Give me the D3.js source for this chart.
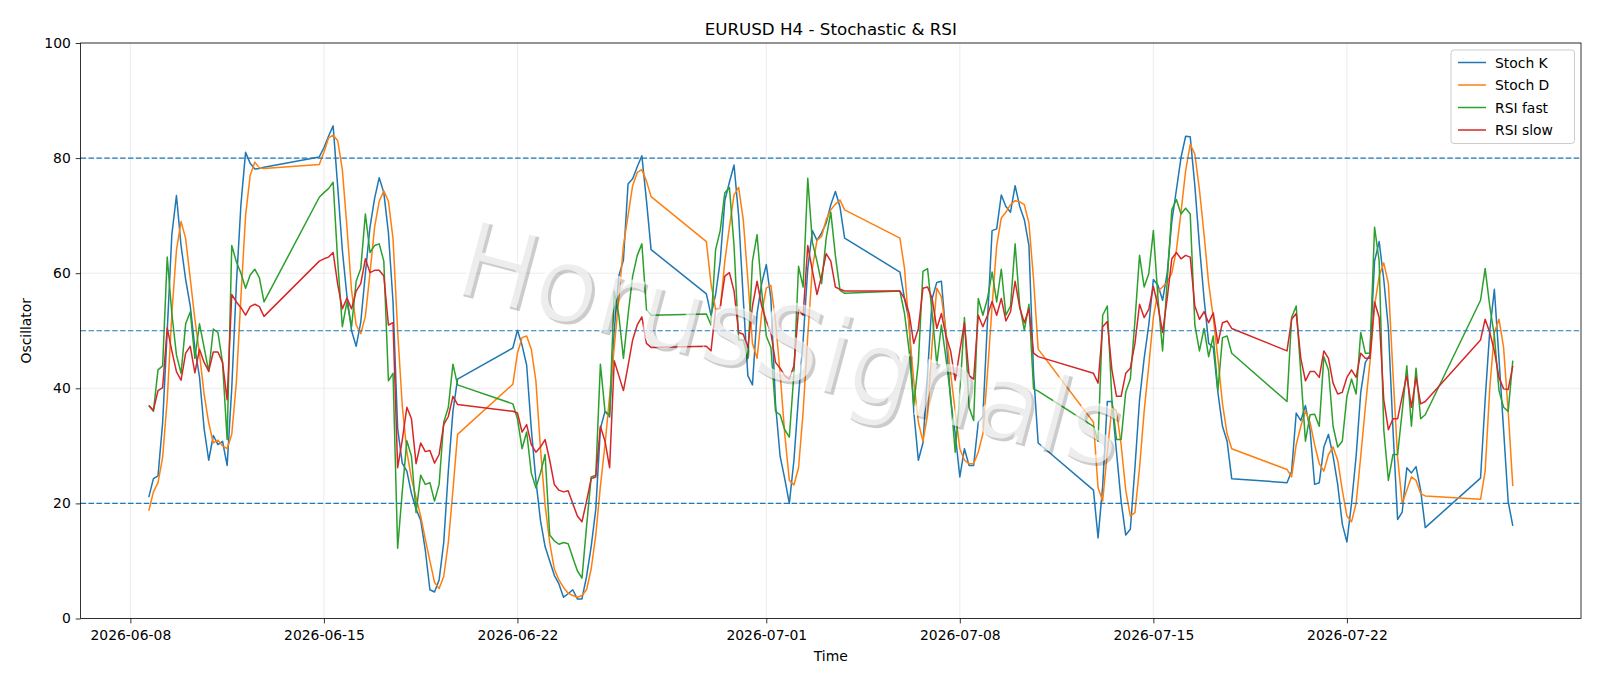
<!DOCTYPE html>
<html>
<head>
<meta charset="utf-8">
<script src="https://cdn.jsdelivr.net/npm/d3@7"></script>
<style>
    body { margin: 0; background: #fff; }
    #chart { width: 1600px; height: 686px; }
    text { font-family: "DejaVu Sans", sans-serif; }
</style>
</head>
<body>
<div id="chart"></div>
<script>

// H4 bars, one block per trading week
const sessions = [
    {start: "2026-06-08T16:00", bars: 26},
    {start: "2026-06-14T20:00", bars: 31},
    {start: "2026-06-21T20:00", bars: 31},
    {start: "2026-06-28T20:00", bars: 31},
    {start: "2026-07-05T20:00", bars: 31},
    {start: "2026-07-12T20:00", bars: 31},
    {start: "2026-07-19T20:00", bars: 31},
    {start: "2026-07-26T20:00", bars: 8}
];

const stochK = [
    21.1, 24.3, 24.8, 34, 50, 66.7, 73.5, 64.8, 58.9, 54.3, 47, 42, 33, 27.5, 31.8, 30.2, 30.8, 26.6, 40, 58, 72, 81, 79.1, 78.1, 78.2, 78.4,
    80.2, 81.8, 83.8, 85.6, 75, 64, 56, 50, 47.3, 51.5, 60, 68, 73, 76.6, 74, 67, 55, 33, 27, 25.6, 21.7, 19, 17.1, 11.9, 5, 4.6, 6.7, 13.2, 25.6, 36, 41.6,
    47, 50.1, 47.5, 44, 33, 24, 17, 12.5, 10, 7.5, 6, 3.7, 4.3, 5, 3.4, 3.4, 7.3, 12.5, 19, 33, 36, 35, 50, 59.5, 62.3, 75.5, 76.4, 78.5, 80.4, 72.6, 64.1,
    56.4, 52.7, 56.3, 62.1, 72.6, 75.8, 78.8, 70, 55.6, 42.2, 40.6, 53, 58.2, 61.5, 55.6, 37.3, 28.2, 24.3, 20, 27.5, 38.6, 48.4, 60.8, 67.4, 65.7, 67, 68.7, 71.9, 74.2, 71.5, 66.1,
    60.2, 55.6, 51.7, 36, 27.5, 30.5, 42.6, 55.6, 58.4, 58.6, 49.1, 38, 32.1, 24.6, 29.5, 26.6, 26.6, 34.1, 35.1, 51.7, 67.4, 67.7, 73.6, 71.6, 70.6, 75.2, 71.6, 69.3, 64.8, 42.6, 30.5,
    22.3, 14, 23, 37.7, 37.7, 28.9, 20.4, 14.5, 15.5, 26.2, 38, 45.2, 51, 58.9, 57.9, 55.3, 60, 69, 74.5, 80.1, 83.8, 83.7, 75.2, 64.8, 55.6, 47.8, 47.1, 39.3, 33.4, 30.8, 24.3,
    23.6, 25.6, 35.7, 34.4, 37, 32.8, 23.3, 23.6, 29.8, 32, 28.2, 23.3, 16.4, 13.3, 20, 28.2, 39.3, 44.5, 45.8, 62.1, 65.5, 58.9, 50.4, 32.8, 17.2, 18.5, 26.2, 25.3, 26.4, 22.3, 15.8,
    24.4, 38, 50, 57.2, 45.2, 32.8, 20.3, 16.1
];

const stochD = [
    18.7, 22, 23.6, 28, 38, 53, 64, 69, 66, 59, 52, 46, 39, 34, 30.5, 31, 30, 29.5, 32, 41, 56, 70, 77, 79.3, 78.3, 78.2,
    78.9, 81, 83.5, 84, 83, 78, 68, 57, 51, 49.5, 52.5, 60, 68, 72.5, 74.3, 72.5, 66, 50, 37, 29, 24.3, 21, 17.8, 13.8, 10, 6.3, 5.2, 7.3, 13.2, 22.3, 32,
    40.7, 46.1, 48.8, 49.1, 46.8, 41.3, 29.5, 19.7, 13.2, 8.6, 6.7, 5.4, 4.4, 4, 3.7, 4, 5, 8.6, 14.5, 23, 30.2, 38.6, 47.1, 55.6, 64.8, 70, 75.2, 77.5, 78, 76, 73.3,
    65.5, 58.2, 53.7, 53.8, 62.1, 68, 73.6, 74.9, 69.3, 58.9, 47.8, 45.2, 53, 57.4, 57.9, 51.7, 42.6, 32.1, 24, 23.2, 26.2, 36, 49.1, 60.9, 65.7, 66.4, 69.3, 71, 72, 72.7, 71,
    66.1, 60.8, 50.4, 41.3, 34.1, 30.8, 35.4, 47.8, 57.4, 55.9, 49.7, 42.6, 36, 29.5, 27.5, 26.9, 26.9, 28.9, 32.1, 42.6, 54.3, 64.8, 69.6, 70.6, 71.9, 72.6, 72.4, 71.9, 68.7, 58.9, 46.8,
    34.1, 22.7, 20.4, 28.9, 36.7, 36, 30.2, 22.3, 17.8, 18.4, 26.2, 36, 43.9, 52.3, 56.9, 57.6, 58.5, 60, 64, 70.6, 77.8, 82.4, 80.7, 74.5, 66.7, 58.2, 52.3, 45.2, 37.3, 32.1, 29.5,
    25.9, 24.6, 30.2, 33.4, 36, 34.1, 30.2, 26.9, 25.6, 28.5, 29.8, 27.5, 22.3, 17.8, 16.8, 20, 28.2, 36.7, 44.5, 54.3, 59.5, 61.8, 58.2, 42.6, 28, 20, 22.3, 24.6, 24, 21.7, 21.3,
    20.7, 25.6, 40, 49.7, 52, 47.1, 36, 23
];

const rsiFast = [
    37, 36, 43.2, 43.9, 62.8, 53, 45.8, 42.6, 51.2, 53.3, 45.2, 51.2, 47.1, 42.9, 50.3, 49.7, 44.5, 31.1, 64.8, 62, 60, 57.4, 59.7, 60.7, 59.2, 55,
    73.2, 74, 74.7, 75.8, 62, 50.7, 55, 50.7, 58.6, 60.8, 70.3, 63.6, 64.8, 65.1, 62.1, 41.3, 42.6, 12.2, 22, 30.9, 28.2, 18.4, 24.9, 23.3, 23.6, 20.4, 23.3, 34.1, 36.7, 44.2, 40.6,
    37.3, 34.7, 29.5, 32.4, 25.3, 22.7, 25.3, 28.5, 14.5, 13.5, 12.9, 13.2, 13, 10.6, 8.3, 7, 16, 24.6, 24.9, 44.2, 36, 35.4, 56.9, 52.7, 45.2, 52.7, 59.5, 63.1, 65.1, 53.7, 52.7,
    52.9, 51, 64.1, 67.4, 74, 74.9, 64.8, 48.4, 48.4, 45.2, 62.1, 66.7, 56.9, 49.1, 47.1, 36, 35.4, 32.8, 31.5, 42.6, 61.2, 57.6, 76.5, 65.4, 62.1, 58.2, 66.1, 70.6, 63, 57, 56.5,
    56.9, 53, 46.5, 37, 44.5, 60.3, 60.8, 53, 44.2, 51, 45.2, 38.6, 28.9, 39, 52.3, 36.7, 34.4, 55.6, 52.7, 55.6, 60.2, 55, 60.7, 52.7, 54.3, 65.1, 54.3, 50.1, 54.6, 39.9, 39.5,
    33.4, 30.8, 52.7, 54.3, 38, 31.1, 31.1, 39.3, 41.6, 51.7, 63.1, 57.6, 59.9, 67.4, 55.6, 46.5, 58.6, 71, 72.8, 70.3, 71.3, 70.3, 51, 46.5, 50.4, 45.5, 49.1, 39.6, 48.8, 49.1, 46.1,
    37.7, 52.3, 54.3, 42.6, 30.8, 35.4, 35.5, 33.4, 45.5, 43.2, 33.4, 29.8, 30.8, 38.6, 41.6, 39, 49.7, 46.1, 46.1, 68, 62.1, 32.8, 24, 28.5, 28.5, 36, 43.9, 33.4, 43.5, 34.7, 35.4,
    55.3, 60.8, 54.3, 49.1, 39.6, 36.7, 36, 44.8
];

const rsiSlow = [
    37, 36.2, 39.6, 40.1, 50.5, 46.5, 42.9, 41.4, 46.1, 47.3, 42.7, 46.8, 44.5, 43, 46.3, 46.3, 44.5, 38, 56.3, 55, 54, 52.7, 54.2, 54.6, 54.2, 52.5,
    62.1, 62.5, 62.8, 63.6, 58, 53.8, 55.7, 53.8, 56.9, 58.2, 62.5, 60.1, 60.5, 60.5, 59.5, 51, 51.4, 26.2, 31, 36.7, 34.7, 26.9, 30.5, 29, 29.2, 27, 28.5, 33.7, 35.1, 38.6, 37.2,
    36, 35.7, 32.4, 33.7, 30.2, 28.9, 29.8, 31.1, 27.5, 23.3, 22.3, 22, 22.2, 20, 17.8, 16.8, 20.4, 24.3, 24.6, 33.4, 30.8, 26.2, 44.8, 42.2, 39.6, 43.9, 48.4, 51, 52.4, 47.8, 47.1,
    47.3, 46.5, 53.7, 54, 59.5, 60.1, 56.9, 49.7, 49.4, 47.1, 54.3, 58.6, 54.3, 51.7, 49.7, 44.5, 43.5, 42.2, 41.6, 43.9, 53.7, 52.7, 64.8, 60.5, 56.3, 59.5, 63.4, 62.1, 57.6, 57.2, 56.9,
    56.9, 55.6, 53, 47.8, 50.4, 57.4, 57.6, 55.6, 50.4, 53, 49.1, 46.5, 41.4, 46.5, 51.4, 42.2, 41.6, 52.7, 50.7, 52.7, 55.1, 52.7, 55.6, 51.7, 53.3, 58.6, 54, 51.4, 53.8, 46.1, 45.5,
    42.6, 40.9, 50.7, 51.6, 43.2, 38.6, 38.6, 42.6, 43.5, 47.8, 54.6, 52.3, 53.7, 57.7, 54.3, 49.7, 55.6, 62.5, 63.6, 62.5, 63.1, 62.8, 54.3, 52, 53.3, 51.4, 53.1, 47.8, 51.4, 51.7, 50.4,
    46.5, 52, 53, 45.2, 41.3, 42.9, 42.9, 41.9, 46.5, 45.2, 40.9, 39, 39.3, 41.9, 43.2, 41.9, 46.1, 45.2, 45.2, 55, 52.3, 38, 32.8, 34.7, 34.7, 38.6, 42.2, 36.7, 41.9, 37.3, 37.7,
    48.4, 52, 49.7, 46.5, 41.9, 39.9, 39.8, 43.9
];

const seriesNames = ["Stoch K", "Stoch D", "RSI fast", "RSI slow"];
const seriesColors = ["#1f77b4", "#ff7f0e", "#2ca02c", "#d62728"];
const levels = [80, 20, 50];
const yTicks = [0, 20, 40, 60, 80, 100];
const xTickDates = ["2026-06-08", "2026-06-15", "2026-06-22", "2026-07-01", "2026-07-08", "2026-07-15", "2026-07-22"];


class OscillatorChart {

    constructor(parentElement, data) {
        this.parentElement = parentElement;
        this.data = data;
    }

    initVis() {
        let vis = this;

        vis.margin = {top: 43, right: 19, bottom: 67.5, left: 80.6};
        vis.width = 1600 - vis.margin.left - vis.margin.right;
        vis.height = 686 - vis.margin.top - vis.margin.bottom;

        vis.root = d3.select("#" + vis.parentElement).append("svg")
            .attr("width", 1600)
            .attr("height", 686);

        vis.root.append("rect")
            .attr("width", 1600)
            .attr("height", 686)
            .attr("fill", "#fff");

        vis.svg = vis.root.append("g")
            .attr("transform", "translate(" + vis.margin.left + "," + vis.margin.top + ")");

        // Scales
        vis.x = d3.scaleUtc().range([0, vis.width]);
        vis.y = d3.scaleLinear().domain([0, 100]).range([vis.height, 0]);

        vis.gridGroup = vis.svg.append("g").attr("class", "grid");
        vis.lineGroup = vis.svg.append("g").attr("class", "lines");
        vis.levelGroup = vis.svg.append("g").attr("class", "levels");
        vis.markGroup = vis.svg.append("g").attr("class", "watermark");

        vis.xAxisGroup = vis.svg.append("g")
            .attr("class", "x-axis axis")
            .attr("transform", "translate(0," + vis.height + ")");
        vis.yAxisGroup = vis.svg.append("g")
            .attr("class", "y-axis axis");

        vis.wrangleData();
    }

    wrangleData() {
        let vis = this;
        let parse = d3.utcParse("%Y-%m-%dT%H:%M");

        // timestamps of the H4 bars
        vis.times = [];
        sessions.forEach(function(s) {
            let t0 = parse(s.start);
            for (let i = 0; i < s.bars; i++) {
                vis.times.push(d3.utcHour.offset(t0, 4 * i));
            }
        });

        vis.series = vis.data.map(function(values, j) {
            return {
                name: seriesNames[j],
                color: seriesColors[j],
                values: values.map(function(v, i) { return {date: vis.times[i], value: v}; })
            };
        });

        vis.updateVis();
    }

    updateVis() {
        let vis = this;

        // 5% margin like matplotlib
        let t0 = vis.times[0], t1 = vis.times[vis.times.length - 1];
        let pad = (t1 - t0) * 0.05;
        vis.x.domain([new Date(+t0 - pad), new Date(+t1 + pad)]);

        let tickDates = xTickDates.map(d3.utcParse("%Y-%m-%d"));

        // grid
        vis.gridGroup.selectAll(".vgrid")
            .data(tickDates)
            .enter().append("line")
            .attr("class", "vgrid")
            .attr("x1", function(d) { return vis.x(d); })
            .attr("x2", function(d) { return vis.x(d); })
            .attr("y1", 0)
            .attr("y2", vis.height);

        vis.gridGroup.selectAll(".hgrid")
            .data(yTicks)
            .enter().append("line")
            .attr("class", "hgrid")
            .attr("x1", 0)
            .attr("x2", vis.width)
            .attr("y1", function(d) { return vis.y(d); })
            .attr("y2", function(d) { return vis.y(d); });

        vis.gridGroup.selectAll("line")
            .attr("stroke", "#b0b0b0")
            .attr("stroke-opacity", 0.3)
            .attr("stroke-width", 0.8);

        // series
        let line = d3.line()
            .x(function(d) { return vis.x(d.date); })
            .y(function(d) { return vis.y(d.value); });

        vis.lineGroup.selectAll(".series")
            .data(vis.series)
            .enter().append("path")
            .attr("class", "series")
            .attr("fill", "none")
            .attr("stroke", function(d) { return d.color; })
            .attr("stroke-width", 1.5)
            .attr("stroke-linejoin", "round")
            .attr("d", function(d) { return line(d.values); });

        // overbought / oversold levels
        vis.levelGroup.selectAll(".level")
            .data(levels)
            .enter().append("line")
            .attr("class", "level")
            .attr("x1", 0)
            .attr("x2", vis.width)
            .attr("y1", function(d) { return vis.y(d); })
            .attr("y2", function(d) { return vis.y(d); })
            .attr("stroke", "#1f77b4")
            .attr("stroke-width", 1.2)
            .attr("stroke-dasharray", "5.5,2.4");

        // watermark, text runs down to the right (page coords -> group coords)
        let cx = 791 - vis.margin.left, cy = 342 - vis.margin.top;
        vis.markGroup.append("text")
            .attr("transform", "translate(" + (cx + 3) + "," + (cy + 3) + ") rotate(15)")
            .attr("text-anchor", "middle")
            .attr("dy", "0.365em")
            .style("font-size", "105px")
            .attr("fill", "#000")
            .attr("fill-opacity", 0.2)
            .text("HorusSignals");
        vis.markGroup.append("text")
            .attr("transform", "translate(" + cx + "," + cy + ") rotate(15)")
            .attr("text-anchor", "middle")
            .attr("dy", "0.365em")
            .style("font-size", "105px")
            .attr("fill", "#fff")
            .attr("fill-opacity", 0.65)
            .text("HorusSignals");

        // axes
        vis.xAxis = d3.axisBottom(vis.x)
            .tickValues(tickDates)
            .tickFormat(d3.utcFormat("%Y-%m-%d"))
            .tickSize(4.9)
            .tickPadding(6.3);
        vis.yAxis = d3.axisLeft(vis.y)
            .tickValues(yTicks)
            .tickSize(4.9)
            .tickPadding(4.9);

        vis.xAxisGroup.call(vis.xAxis);
        vis.yAxisGroup.call(vis.yAxis);

        vis.svg.selectAll(".axis .domain").remove();
        vis.svg.selectAll(".axis line").attr("stroke", "#000").attr("stroke-width", 0.8);
        vis.svg.selectAll(".axis text")
            .attr("fill", "#000")
            .style("font-family", "'DejaVu Sans', sans-serif")
            .style("font-size", "13.9px");

        // frame
        vis.svg.append("rect")
            .attr("width", vis.width)
            .attr("height", vis.height)
            .attr("fill", "none")
            .attr("stroke", "#000")
            .attr("stroke-width", 0.8);

        // labels
        vis.svg.append("text")
            .attr("x", vis.width / 2)
            .attr("y", -8.5)
            .attr("text-anchor", "middle")
            .style("font-size", "16.7px")
            .text("EURUSD H4 - Stochastic & RSI");

        vis.svg.append("text")
            .attr("x", vis.width / 2)
            .attr("y", vis.height + 42.5)
            .attr("text-anchor", "middle")
            .style("font-size", "13.9px")
            .text("Time");

        vis.svg.append("text")
            .attr("transform", "translate(" + (30.5 - vis.margin.left) + "," + (vis.height / 2) + ") rotate(-90)")
            .attr("text-anchor", "middle")
            .style("font-size", "13.9px")
            .text("Oscillator");

        // legend
        let lg = vis.root.append("g").attr("class", "legend");
        lg.append("rect")
            .attr("x", 1451)
            .attr("y", 50)
            .attr("width", 123.5)
            .attr("height", 93.5)
            .attr("rx", 3)
            .attr("fill", "#fff")
            .attr("fill-opacity", 0.8)
            .attr("stroke", "#cccccc")
            .attr("stroke-width", 1);

        let rows = lg.selectAll(".row")
            .data(vis.series)
            .enter().append("g")
            .attr("class", "row")
            .attr("transform", function(d, i) { return "translate(0," + (62.5 + i * 22.5) + ")"; });

        rows.append("line")
            .attr("x1", 1458)
            .attr("x2", 1486)
            .attr("stroke", function(d) { return d.color; })
            .attr("stroke-width", 1.5);

        rows.append("text")
            .attr("x", 1495)
            .attr("dy", "0.36em")
            .style("font-size", "13.9px")
            .text(function(d) { return d.name; });
    }
}

let chart = new OscillatorChart("chart", [stochK, stochD, rsiFast, rsiSlow]);
chart.initVis();

</script>
</body>
</html>
